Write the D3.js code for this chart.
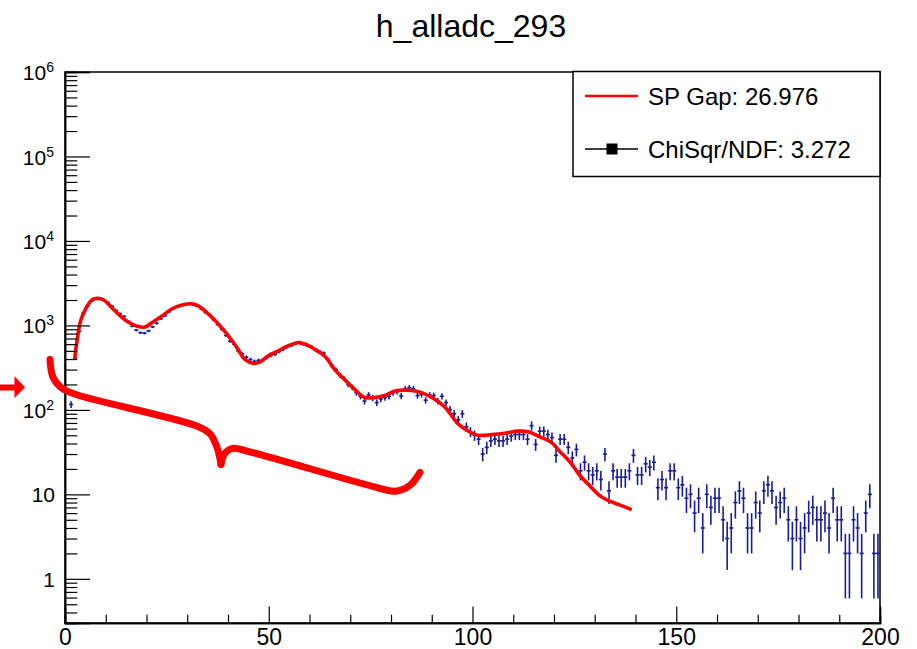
<!DOCTYPE html>
<html>
<head>
<meta charset="utf-8">
<script src="https://cdn.jsdelivr.net/npm/d3@7"></script>
<style>
  html, body { margin: 0; padding: 0; background: #fff; }
  svg { display: block; }
  text { font-family: "Liberation Sans", Arial, Helvetica, sans-serif; fill: #000; }
</style>
</head>
<body>
<svg id="chart" width="917" height="649"></svg>
<script>
// ---------------- data ----------------
const title = "h_alladc_293";
const xDomain = [0, 200];
const yDomain = [0.3, 1e6];
const xMajorTicks = [0, 50, 100, 150, 200];
const xMinorTicks = [10, 20, 30, 40, 60, 70, 80, 90, 110, 120, 130, 140, 160, 170, 180, 190];
const yMajorTicks = [1, 10, 100, 1000, 1e4, 1e5, 1e6];
const yTickLabels = [["1", ""], ["10", ""], ["10", "2"], ["10", "3"], ["10", "4"], ["10", "5"], ["10", "6"]];
const legendLabels = ["SP Gap: 26.976", "ChiSqr/NDF: 3.272"];

// histogram: bin i spans [i, i+1)
const counts = [
  0, 116, 410, 850, 1400, 1700, 1950, 2050, 2080, 2000,
  1870, 1690, 1500, 1380, 1280, 1120, 980, 880, 820, 810,
  860, 960, 1060, 1200, 1300, 1450, 1580, 1670, 1730, 1760,
  1790, 1770, 1690, 1560, 1420, 1330, 1170, 1020, 900, 760,
  650, 600, 500, 460, 420, 395, 375, 385, 390, 415,
  440, 455, 490, 520, 560, 580, 615, 635, 600, 575,
  560, 520, 490, 470, 400, 330, 300, 255, 235, 200,
  185, 160, 145, 127, 150, 138, 122, 135, 140, 145,
  160, 165, 146, 178, 183, 178, 148, 152, 130, 150,
  148, 127, 145, 122, 101, 90, 76, 90, 63, 55,
  50, 45, 30, 36, 43, 45, 43, 43, 45, 49,
  51, 51, 51, 45, 65, 39, 56, 56, 51, 47,
  29, 45, 45, 36, 27, 34, 19, 24, 19, 17,
  19, 15, 30, 11, 19, 16, 16, 16, 19, 29,
  17, 17, 23, 21, 24, 12, 15, 12, 19, 19,
  12, 13, 9, 10, 6, 9, 4, 10, 7, 9,
  9, 5, 3, 4, 8, 11, 9, 4, 4, 8,
  6, 11, 13, 11, 7, 8, 9, 5, 3, 5,
  3, 4, 6, 7, 5, 5, 6, 4, 9, 5,
  5, 2, 2, 5, 4, 2, 6, 10, 2, 2
];

// fit curve (red)
const fitX = [2.4, 3, 3.8, 5, 6.6, 7.9, 9.5, 11.5, 13.6, 15.6, 17.7, 19.6, 21.3, 23.8, 26.3, 28.7, 31.2, 32.8, 35.3, 37.7,
  40, 42.5, 44, 46.1, 47.8, 49.8, 52.3, 54.7, 57.2, 59.2, 61.3, 63.7, 66.2, 68.6, 71.1, 73.5, 76, 78.4, 81, 85,
  87.5, 90, 93.3, 96.5, 99, 101.4, 104.7, 108, 111.2, 113.7, 116.1, 119.4, 121.5, 124, 126.4, 128.8, 131.3, 133.7, 135.8, 138.7];
const fitY = [410, 680, 1120, 1550, 2000, 2090, 2000, 1620, 1290, 1090, 980, 955, 1075, 1290, 1575, 1740, 1800, 1690, 1350, 1030,
  760, 520, 400, 355, 367, 435, 500, 570, 624, 595, 520, 435, 300, 229, 175, 140, 140, 148, 167, 170,
  160, 140, 107, 68, 56, 50, 51, 53, 56, 55, 49, 41, 32, 24, 16.6, 12.6, 9.6, 8.3, 7.6, 6.7];

// hand-drawn red annotation (data coordinates)
const braceLeftX = [-3.68, -2.94, -0.74, 2.70, 32.5, 35.6, 37.3, 38.28];
const braceLeftY = [396, 243, 180, 152, 64, 52, 36, 22.7];
const braceRightX = [38.28, 39.2, 41.2, 44.91, 77.3, 81.23, 84.66, 87.12];
const braceRightY = [22.7, 30.5, 35.0, 32.3, 11.8, 10.9, 12.8, 18.2];
const arrowX = [-15.95, -12.4, -12.4, -9.8, -12.4, -12.4, -15.95];
const arrowY = [200, 200, 250, 185, 138, 170, 170];

// ---------------- drawing ----------------
const svg = d3.select("#chart");
const x = d3.scaleLinear().domain(xDomain).range([65, 880]);
const y = d3.scaleLog().domain(yDomain).range([623, 72]);

// title
svg.append("text").attr("x", 471).attr("y", 37).attr("text-anchor", "middle")
  .style("font-size", "32px").text(title);

// histogram points with error bars
const g = svg.append("g").attr("stroke", "#1c1c96").attr("stroke-width", 1.6).attr("fill", "none");
counts.forEach((n, i) => {
  if (n <= 0) return;
  const e = Math.sqrt(n);
  const lo = Math.max(n - e, yDomain[0]);
  const hi = Math.min(n + e, yDomain[1]);
  g.append("line").attr("x1", x(i + 0.5)).attr("x2", x(i + 0.5)).attr("y1", y(lo)).attr("y2", y(hi));
  g.append("line").attr("x1", x(i)).attr("x2", x(i + 1)).attr("y1", y(n)).attr("y2", y(n));
});

// fit curve
const fitData = fitX.map((v, i) => [v, fitY[i]]);
svg.append("path").datum(fitData)
  .attr("fill", "none").attr("stroke", "#ff0000").attr("stroke-width", 3.6)
  .attr("stroke-linejoin", "round").attr("stroke-linecap", "round")
  .attr("d", d3.line().x(d => x(d[0])).y(d => y(d[1])).curve(d3.curveCatmullRom.alpha(0.5)));

// frame
svg.append("rect").attr("x", 65).attr("y", 72).attr("width", 815).attr("height", 551)
  .attr("fill", "none").attr("stroke", "#000").attr("stroke-width", 1.5);

// x axis
const xAxis = svg.append("g").attr("transform", "translate(0,623)");
xAxis.call(d3.axisBottom(x).tickValues(xMajorTicks).tickSize(-16.5).tickPadding(6).tickFormat(d3.format("d")));
xAxis.append("g").call(d3.axisBottom(x).tickValues(xMinorTicks).tickSize(-8.3).tickFormat(""));
xAxis.selectAll(".domain").attr("stroke", "#000").attr("stroke-width", 1.5);
xAxis.selectAll(".tick line").attr("stroke", "#000").attr("stroke-width", 1.2);
xAxis.selectAll(".tick text").style("font-size", "23px").attr("dy", "0.72em").attr("y", 5);

// y axis
const yMinor = [];
[0.1, 1, 10, 100, 1000, 1e4, 1e5].forEach(dec => {
  for (let k = 2; k <= 9; k++) { const v = dec * k; if (v >= yDomain[0] && v <= yDomain[1]) yMinor.push(v); }
});
const yAxis = svg.append("g").attr("transform", "translate(65,0)");
yAxis.call(d3.axisLeft(y).tickValues(yMajorTicks).tickSize(-25).tickPadding(10).tickFormat(""));
yAxis.append("g").call(d3.axisLeft(y).tickValues(yMinor).tickSize(-12.3).tickFormat(""));
yAxis.selectAll(".domain").attr("stroke", "#000").attr("stroke-width", 1.5);
yAxis.selectAll(".tick line").attr("stroke", "#000").attr("stroke-width", 1.2);
yAxis.selectAll(".tick").filter(d => yMajorTicks.includes(d)).each(function (d) {
  const idx = yMajorTicks.indexOf(d);
  const lab = yTickLabels[idx];
  const t = d3.select(this).select("text").text(null)
    .attr("x", lab[1] ? -11 : -10).attr("dy", "0.36em").attr("text-anchor", "end").style("font-size", "21px");
  t.append("tspan").text(lab[0]);
  if (lab[1]) t.append("tspan").attr("dy", "-8").style("font-size", "14px").text(lab[1]);
});

// legend
const lg = svg.append("g");
lg.append("rect").attr("x", 573).attr("y", 71.5).attr("width", 307).attr("height", 105)
  .attr("fill", "#fff").attr("stroke", "#000").attr("stroke-width", 1.5);
lg.append("line").attr("x1", 585).attr("x2", 638).attr("y1", 96).attr("y2", 96)
  .attr("stroke", "#ff0000").attr("stroke-width", 2.5);
lg.append("text").attr("x", 648).attr("y", 105).style("font-size", "24px").text(legendLabels[0]);
lg.append("line").attr("x1", 585).attr("x2", 638).attr("y1", 149).attr("y2", 149)
  .attr("stroke", "#000").attr("stroke-width", 1.3);
lg.append("rect").attr("x", 606.5).attr("y", 143.5).attr("width", 11).attr("height", 11).attr("fill", "#000");
lg.append("text").attr("x", 648).attr("y", 158).style("font-size", "24px").text(legendLabels[1]);

// annotation (red brace + arrow)
const ann = svg.append("g");
const annLine = d3.line().x(d => x(d[0])).y(d => y(d[1])).curve(d3.curveCatmullRom.alpha(0.5));
[[braceLeftX, braceLeftY], [braceRightX, braceRightY]].forEach(([bx, by]) => {
  ann.append("path").datum(bx.map((v, i) => [v, by[i]]))
    .attr("fill", "none").attr("stroke", "#ff0000").attr("stroke-width", 7)
    .attr("stroke-linecap", "round").attr("stroke-linejoin", "round").attr("d", annLine);
});
ann.append("path").datum(arrowX.map((v, i) => [v, arrowY[i]]))
  .attr("fill", "#ff0000").attr("stroke", "none")
  .attr("d", d3.line().x(d => x(d[0])).y(d => y(d[1])));
</script>
</body>
</html>
